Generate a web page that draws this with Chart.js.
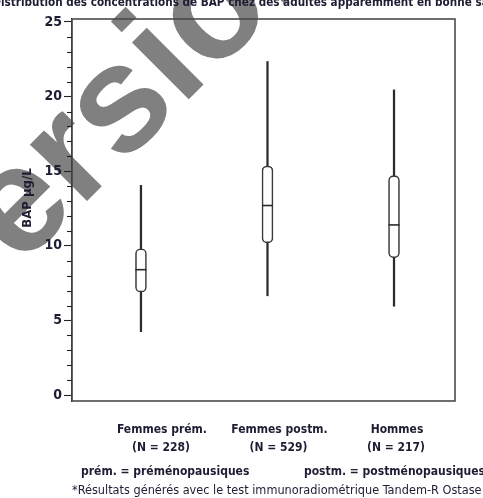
<!DOCTYPE html>
<html>
<head>
<meta charset="utf-8">
<script src="https://cdn.jsdelivr.net/npm/chart.js@4.4.1/dist/chart.umd.min.js"></script>
<style>
  html, body { margin: 0; padding: 0; background: #fff; }
  #wrap { width: 483px; height: 498px; position: relative; overflow: hidden; }
</style>
</head>
<body>
<div id="wrap"><canvas id="chart" width="483" height="498"></canvas></div>
<script>
// BAP concentrations (µg/L) by group: whiskers, quartiles and median
const categories  = ['Femmes prém.', 'Femmes postm.', 'Hommes'];
const counts      = [228, 529, 217];
const whiskerLow  = [4.25, 6.65, 5.95];
const quartile1   = [6.9, 10.2, 9.2];
const medians     = [8.4, 12.7, 11.4];
const quartile3   = [9.8, 15.35, 14.7];
const whiskerHigh = [14.05, 22.35, 20.45];
const yMajorTicks = [0, 5, 10, 15, 20, 25];

const titleText = 'Distribution des concentrations de BAP chez des adultes apparemment en bonne santé*';
const yTitle    = 'BAP µg/L';
const notes     = ['prém. = préménopausiques', 'postm. = postménopausiques'];
const footnote  = '*Résultats générés avec le test immunoradiométrique Tandem-R Ostase';
const stamp     = 'Version';

const ink = '#1d1d33';
const boxInk = '#3a3a3a';
const condensed = '"DejaVu Sans Condensed", "DejaVu Sans", sans-serif';

// group positions on the index axis
const idx = categories.map((_, i) => i);

const whiskerData = idx.map(i => ({ x: i, y: [whiskerLow[i], whiskerHigh[i]] }));
const boxData     = idx.map(i => ({ x: i, y: [quartile1[i], quartile3[i]] }));
const medianData  = idx.map(i => ({ x: i, y: medians[i] }));

// grey stamp behind the plot
const stampPlugin = {
  id: 'stamp',
  beforeDraw(chart) {
    const ctx = chart.ctx;
    ctx.save();
    ctx.translate(-46, 334);
    ctx.rotate(-Math.PI / 4);
    ctx.font = 'bold 152px "Liberation Sans", Arial, sans-serif';
    ctx.fillStyle = '#808080';
    ctx.textBaseline = 'alphabetic';
    ctx.fillText(stamp, 0, 0);
    ctx.restore();
  }
};

// frame, minor ticks and surrounding texts
const decorPlugin = {
  id: 'decor',
  afterDraw(chart) {
    const ctx = chart.ctx;
    const a = chart.chartArea;
    const y = chart.scales.y;
    const x = chart.scales.x;
    ctx.save();

    // plot frame
    ctx.strokeStyle = '#4a4a4a';
    ctx.lineWidth = 1.6;
    ctx.strokeRect(a.left, a.top, a.right - a.left, a.bottom - a.top);

    // minor ticks every unit
    ctx.strokeStyle = '#222';
    ctx.lineWidth = 1.1;
    y.ticks.forEach(t => {
      if (yMajorTicks.includes(t.value)) return;
      const py = Math.round(y.getPixelForValue(t.value)) + 0.5;
      ctx.beginPath();
      ctx.moveTo(a.left - 5, py);
      ctx.lineTo(a.left, py);
      ctx.stroke();
    });

    // y axis title
    ctx.fillStyle = ink;
    ctx.font = 'bold 13px ' + condensed;
    ctx.save();
    ctx.translate(31, 198);
    ctx.rotate(-Math.PI / 2);
    ctx.textAlign = 'center';
    ctx.textBaseline = 'alphabetic';
    ctx.fillText(yTitle, 0, 0);
    ctx.restore();

    // category labels
    const labelShift = [21, 12, 3];
    ctx.textAlign = 'center';
    ctx.textBaseline = 'alphabetic';
    ctx.font = 'bold 12px ' + condensed;
    categories.forEach((c, i) => {
      const cx = x.getPixelForValue(i) + labelShift[i];
      ctx.fillText(c, cx, 433);
      ctx.fillText('(N = ' + counts[i] + ')', cx - 1, 451);
    });

    // abbreviations
    ctx.textAlign = 'left';
    ctx.fillText(notes[0], 81, 475);
    ctx.textAlign = 'right';
    ctx.fillText(notes[1], 485, 475);

    // footnote
    ctx.textAlign = 'left';
    ctx.font = '12.6px ' + condensed;
    ctx.fillText(footnote, 72, 494);

    // heading, cut by the top edge
    ctx.font = 'bold 12.5px ' + condensed;
    ctx.save();
    ctx.scale(0.93, 1);
    const dW = ctx.measureText('D').width;
    ctx.fillText(titleText, -dW + 1, 6);
    ctx.restore();

    ctx.restore();
  }
};

new Chart(document.getElementById('chart'), {
  data: {
    datasets: [
      {
        type: 'bar',
        label: 'Moustaches',
        data: whiskerData,
        backgroundColor: '#2b2b2b',
        borderWidth: 0,
        barThickness: 1.6,
        grouped: false,
        order: 3
      },
      {
        type: 'bar',
        label: 'Q1–Q3',
        data: boxData,
        backgroundColor: '#ffffff',
        borderColor: boxInk,
        borderWidth: 1.6,
        borderRadius: 5,
        borderSkipped: false,
        barThickness: 11,
        grouped: false,
        order: 2
      },
      {
        type: 'line',
        label: 'Médiane',
        data: medianData,
        showLine: false,
        pointStyle: 'line',
        pointRadius: 5.5,
        pointHoverRadius: 5.5,
        borderColor: '#2b2b2b',
        borderWidth: 1.6,
        order: 1
      }
    ]
  },
  options: {
    responsive: false,
    devicePixelRatio: 1,
    animation: false,
    events: [],
    layout: { padding: { top: 19, right: 28, bottom: 97, left: 0 } },
    plugins: {
      legend: { display: false },
      tooltip: { enabled: false },
      title: { display: false }
    },
    scales: {
      x: {
        type: 'linear',
        display: false,
        offset: false,
        min: -0.545,
        max: 2.482
      },
      y: {
        type: 'linear',
        min: -0.4,
        max: 25.2,
        afterFit(scale) { scale.width = 72; },
        ticks: {
          stepSize: 1,
          includeBounds: false,
          autoSkip: false,
          padding: 2,
          color: ink,
          font: { family: condensed, size: 14, weight: 'bold' },
          callback: v => (yMajorTicks.includes(v) ? String(v) : '')
        },
        grid: {
          drawOnChartArea: false,
          tickLength: 8,
          tickWidth: 1.1,
          tickColor: c => (yMajorTicks.includes(c.tick.value) ? '#222' : 'rgba(0,0,0,0)')
        },
        border: { color: '#222', width: 1.2 }
      }
    }
  },
  plugins: [stampPlugin, decorPlugin]
});
</script>
</body>
</html>
